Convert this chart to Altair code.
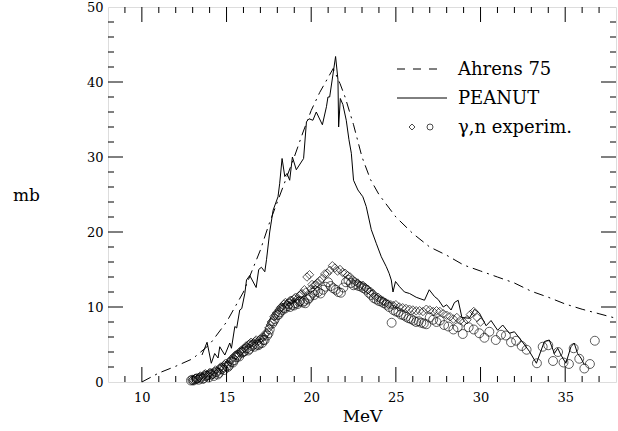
import altair as alt
import pandas as pd

# ---------------- data ----------------
ahrens_x = [10, 11, 12, 13, 14, 15, 16, 17, 17.5, 18, 18.5, 19, 19.5, 20, 20.5, 21, 21.3,
            21.7, 22, 22.5, 23, 23.5, 24, 25, 26, 27, 28, 29, 30, 31, 32, 33, 34, 35, 36, 37, 38]
ahrens_y = [0, 1.2, 2.1, 3.1, 5.0, 8.0, 12.0, 17.6, 21.0, 24.0, 27.0, 30.0, 33.2, 36.2, 38.6, 40.6, 41.8,
            39.8, 38.0, 34.3, 30.0, 27.0, 25.0, 22.0, 19.8, 18.0, 16.9, 15.6, 14.8, 14.0, 13.2, 12.1,
            11.3, 10.4, 9.7, 9.1, 8.5]

peanut_x = [13.55, 13.85, 14.1, 14.3, 14.5, 14.6, 14.9, 15.19, 15.29, 15.49, 15.6, 15.78, 15.9, 16.08,
            16.18, 16.37, 16.75, 16.9, 17.06, 17.26, 17.36, 17.55, 17.75, 18.04, 18.14, 18.28, 18.44,
            18.57, 18.73, 18.89, 19.12, 19.55, 19.72, 19.87, 20.1, 20.3, 20.66, 20.9, 20.99, 21.09,
            21.44, 21.58, 21.62, 21.72, 21.87, 22.07, 22.23, 22.37, 22.5, 22.76, 23.05, 23.25, 23.55,
            23.84, 24.14, 24.43, 24.6, 24.73, 24.83, 24.98, 25.22, 25.51, 25.81, 26.2, 26.69, 26.97,
            27.28, 27.5, 27.8, 28.0, 28.26, 28.46, 28.68, 28.9, 29.34, 29.64, 29.93, 30.33, 30.62,
            31.01, 31.31, 31.7, 32.0, 32.39, 32.88, 33.3, 33.77, 34.06, 34.36, 34.56, 34.75, 35.04,
            35.34, 35.53, 35.73, 35.93, 36.13]
peanut_y = [3.6, 5.3, 2.5, 3.8, 3.2, 4.7, 3.6, 5.2, 4.5, 7.4, 7.2, 9.6, 9.8, 11.8,
            13.6, 14.2, 12.6, 15.0, 15.3, 14.7, 16.3, 20.0, 22.9, 24.7, 26.5, 29.8, 27.4,
            27.8, 26.9, 30.0, 28.3, 29.8, 34.7, 35.1, 34.9, 36.0, 34.3, 36.7, 38.0, 38.0,
            43.4, 40.3, 34.0, 37.8, 37.0, 34.9, 32.3, 30.5, 26.9, 25.6, 24.7, 23.4, 20.3,
            18.5, 16.7, 15.4, 14.5, 13.6, 12.0, 13.4, 12.7, 12.0, 11.8, 11.3, 10.9, 12.3,
            11.4, 11.0, 10.0, 10.3, 9.6, 10.6, 10.9, 8.6, 8.5, 9.7, 9.2, 7.5, 8.2,
            6.9, 7.6, 6.5, 6.7, 5.6, 4.1, 2.5, 5.4, 5.6, 3.8, 4.5, 3.6, 2.5,
            4.7, 5.2, 3.8, 3.2, 2.3]

diam_x = [13.0, 13.15, 13.3, 13.45, 13.6, 13.75, 13.9, 14.05, 14.2, 14.35, 14.5, 14.65, 14.8, 14.95,
          15.1, 15.25, 15.4, 15.55, 15.7, 15.85, 16.0, 16.15, 16.3, 16.45, 16.6, 16.75, 16.9, 17.05,
          17.2, 17.35, 17.5, 17.65, 17.8, 17.95, 18.1, 18.25, 18.4, 18.55, 18.7, 18.85, 19.0, 19.15,
          19.3, 19.45, 19.6, 19.75, 19.9, 20.05, 20.2, 20.35, 20.5, 20.65, 20.8, 20.95, 21.1, 21.25,
          21.4, 21.55, 21.7, 21.85, 22.0, 22.15, 22.3, 22.45, 22.6, 22.75, 22.9, 23.05, 23.2, 23.35,
          23.5, 23.65, 23.8, 23.95, 24.1, 24.25, 24.4, 24.55, 24.7, 24.85, 25.0, 25.2, 25.4, 25.6,
          25.8, 26.0, 26.2, 26.4, 26.6, 26.8, 27.0, 27.2, 27.4, 27.6, 27.8, 28.0, 28.2, 28.4, 28.6,
          28.8, 29.0, 29.2, 29.4, 29.6, 29.8, 30.0,
          13.08, 13.38, 13.68, 13.98, 14.28, 14.58, 14.88, 15.18, 15.48, 15.78, 16.08, 16.38, 16.68,
          16.98, 17.28, 17.58, 17.88, 18.18, 18.48, 18.78, 19.08, 19.38, 19.68, 19.98, 20.28]
diam_y = [0.3, 0.5, 0.4, 0.8, 0.7, 1.1, 0.9, 1.3, 1.0, 1.6, 1.4, 2.0, 1.9, 2.5,
          2.4, 3.0, 3.2, 3.6, 3.7, 4.2, 4.4, 4.8, 5.0, 5.3, 5.2, 5.6, 5.5, 5.9,
          6.0, 6.6, 7.2, 8.0, 8.7, 9.2, 9.6, 10.0, 10.4, 10.3, 10.7, 10.9, 11.1, 11.0,
          11.5, 11.8, 12.3, 14.0, 14.3, 13.0, 12.9, 13.2, 13.5, 13.8, 14.4, 14.5, 14.9, 15.5,
          15.2, 14.8, 15.0, 14.6, 14.5, 14.2, 14.0, 13.6, 13.4, 13.2, 12.9, 12.9, 12.6, 12.3,
          12.1, 11.8, 11.4, 11.3, 11.0, 10.8, 10.6, 10.4, 10.3, 10.2, 10.3, 10.0, 9.9, 9.8,
          9.7, 9.6, 9.5, 9.5, 9.4, 9.7, 9.6, 9.4, 9.5, 9.4, 9.1, 8.9, 8.7, 8.4, 8.6,
          8.2, 8.0, 8.3, 9.0, 9.4, 8.6, 8.0,
          0.2, 0.6, 1.0, 1.2, 1.4, 1.8, 2.3, 2.7, 3.5, 4.0, 4.5, 5.1, 5.4,
          5.7, 6.3, 7.6, 8.9, 9.9, 10.6, 10.9, 11.3, 11.7, 12.0, 12.4, 13.0]

circ_x = [12.9, 13.05, 13.2, 13.35, 13.5, 13.65, 13.8, 13.95, 14.1, 14.25, 14.4, 14.55, 14.7, 14.85,
          15.0, 15.15, 15.3, 15.45, 15.6, 15.75, 15.9, 16.05, 16.2, 16.35, 16.5, 16.65, 16.8, 16.95,
          17.1, 17.25, 17.4, 17.55, 17.7, 17.85, 18.0, 18.15, 18.3, 18.45, 18.6, 18.75, 18.9, 19.05,
          19.2, 19.35, 19.5, 19.65, 19.8, 19.95, 20.1, 20.25, 20.4, 20.55, 20.7, 20.85, 21.0, 21.15,
          21.3, 21.45, 21.6, 21.75, 21.9, 22.05, 22.2, 22.35, 22.5, 22.65, 22.8, 22.95, 23.1, 23.25,
          23.4, 23.55, 23.7, 23.85, 24.0, 24.15, 24.3, 24.45, 24.6, 24.75, 24.85, 25.0, 25.15, 25.3,
          25.45, 25.6, 25.75, 25.9, 26.05, 26.2, 26.35, 26.5, 26.65, 26.8, 27.0, 27.2, 27.4, 27.6,
          27.85, 28.1, 28.4, 28.65, 28.95, 29.3, 29.6, 29.93, 30.23, 30.52, 30.9, 31.21, 31.5, 31.8,
          32.1, 32.43, 32.72, 33.33, 33.67, 34.0, 34.28, 34.58, 34.9, 35.22, 35.5, 35.83, 36.13,
          36.46, 36.75,
          12.98, 13.28, 13.58, 13.88, 14.18, 14.48, 14.78, 15.08, 15.38, 15.68, 15.98, 16.28, 16.58,
          16.88, 17.18, 17.48, 17.78, 18.08, 18.38, 18.68, 18.98, 19.28, 19.58, 19.88, 20.18]
circ_y = [0.2, 0.2, 0.4, 0.3, 0.6, 0.5, 0.8, 0.6, 1.0, 0.8, 1.3, 1.2, 1.7, 1.6,
          2.1, 2.2, 2.7, 2.9, 3.3, 3.4, 3.9, 4.1, 4.5, 4.4, 4.8, 4.7, 5.0, 5.1,
          5.2, 5.6, 6.2, 7.0, 7.8, 8.4, 8.9, 9.3, 9.6, 9.8, 10.1, 10.0, 10.3, 10.5,
          10.4, 10.8, 10.6, 10.5, 11.0, 11.5, 11.9, 12.2, 12.0, 11.8, 12.3, 12.7, 13.3, 12.8,
          12.5, 12.3, 12.0, 11.9, 12.6, 13.3, 13.6, 13.2, 12.9, 13.0, 12.8, 12.7, 12.5, 12.3,
          11.9, 11.6, 11.2, 11.0, 10.8, 10.7, 10.5, 10.3, 10.0, 7.9, 9.6, 9.4, 9.3, 9.0,
          8.9, 8.7, 8.5, 8.4, 8.2, 8.0, 8.1, 7.9, 7.8, 7.7, 8.6, 8.3, 8.0, 8.2,
          7.6, 7.4, 7.0, 7.3, 6.4, 7.3, 7.0, 6.5, 5.9, 6.7, 5.6, 6.3, 6.2, 5.3,
          5.5, 4.8, 4.3, 2.5, 4.7, 4.9, 2.8, 4.0, 2.6, 2.4, 4.5, 3.1, 1.8,
          2.4, 5.5,
          0.3, 0.5, 0.4, 0.9, 1.1, 1.0, 1.9, 2.0, 2.6, 3.6, 4.0, 4.2, 5.0,
          4.9, 5.6, 6.5, 8.1, 9.0, 9.9, 10.4, 10.2, 10.7, 10.8, 11.2, 11.6]

x_major = [10, 15, 20, 25, 30, 35]
x_minor = [9, 11, 12, 13, 14, 16, 17, 18, 19, 21, 22, 23, 24, 26, 27, 28, 29, 31, 32, 33, 34, 36, 37]
y_major = [10, 20, 30, 40]
y_minor = [2, 4, 6, 8, 12, 14, 16, 18, 22, 24, 26, 28, 32, 34, 36, 38, 42, 44, 46, 48]
x_labels = [10, 15, 20, 25, 30, 35]
y_labels = [0, 10, 20, 30, 40, 50]

legend_labels = ["Ahrens 75", "PEANUT", "γ,n experim."]

# ---------------- chart ----------------
W, H = 508, 375
FONT = "DejaVu Serif"
MAJ, MIN = 15, 6

xs = alt.Scale(domain=[8, 38], nice=False, zero=False)
ys = alt.Scale(domain=[0, 50], nice=False, zero=False)

xax = alt.Axis(values=x_labels, title="MeV", ticks=False, domain=False, grid=False,
               labelFont=FONT, labelFontSize=13, labelColor="black", labelPadding=9,
               labelFlush=False, titleFont=FONT, titleFontSize=17, titleFontWeight="normal",
               titleColor="black", titlePadding=4)
yax = alt.Axis(values=y_labels, title="mb", ticks=False, domain=False, grid=False,
               labelFont=FONT, labelFontSize=13, labelColor="black", labelPadding=5,
               labelFlush=False, titleFont=FONT, titleFontSize=17, titleFontWeight="normal",
               titleColor="black", titleAngle=0, titleX=-82, titleY=188,
               titleAlign="center", titleBaseline="middle")

X = lambda f: alt.X(f, type="quantitative", scale=xs, axis=xax)
Y = lambda f: alt.Y(f, type="quantitative", scale=ys, axis=yax)

ahrens = pd.DataFrame({"x": ahrens_x, "y": ahrens_y})
peanut = pd.DataFrame({"x": peanut_x, "y": peanut_y})
diam = pd.DataFrame({"x": diam_x, "y": diam_y})
circ = pd.DataFrame({"x": circ_x, "y": circ_y})

layers = []
layers.append(alt.Chart(diam).mark_point(shape="diamond", filled=False, size=72, color="black",
                                          strokeWidth=0.9).encode(x=X("x"), y=Y("y")))
layers.append(alt.Chart(circ).mark_point(shape="circle", filled=False, size=80, color="black",
                                          strokeWidth=0.9).encode(x=X("x"), y=Y("y")))
layers.append(alt.Chart(ahrens).mark_line(color="black", strokeWidth=1,
                                           strokeDash=[10, 5, 2, 5]).encode(x=X("x"), y=Y("y")))
layers.append(alt.Chart(peanut).mark_line(color="black", strokeWidth=1).encode(x=X("x"), y=Y("y")))

# inward ticks on all four sides
def xt(vals, ln):
    d = pd.DataFrame({"t": vals})
    b = alt.Chart(d).mark_rule(color="black", strokeWidth=1).encode(
        x=X("t"), y=alt.value(H), y2=alt.value(H - ln))
    t = alt.Chart(d).mark_rule(color="black", strokeWidth=1).encode(
        x=X("t"), y=alt.value(0), y2=alt.value(ln))
    return [b, t]

def yt(vals, ln):
    d = pd.DataFrame({"t": vals})
    l = alt.Chart(d).mark_rule(color="black", strokeWidth=1).encode(
        y=Y("t"), x=alt.value(0), x2=alt.value(ln))
    r = alt.Chart(d).mark_rule(color="black", strokeWidth=1).encode(
        y=Y("t"), x=alt.value(W), x2=alt.value(W - ln))
    return [l, r]

layers += xt(x_major, MAJ) + xt(x_minor, MIN) + yt(y_major, MAJ) + yt(y_minor, MIN)

# legend drawn inside the plot
one = pd.DataFrame({"a": [0]})
LX0 = 397 - 108
layers.append(alt.Chart(one).mark_rule(color="black", strokeWidth=1, strokeDash=[8, 8]).encode(
    x=alt.value(LX0), x2=alt.value(LX0 + 46), y=alt.value(69 - 7)))
layers.append(alt.Chart(one).mark_rule(color="black", strokeWidth=1).encode(
    x=alt.value(LX0), x2=alt.value(LX0 + 50), y=alt.value(98 - 7)))
layers.append(alt.Chart(one).mark_point(shape="diamond", filled=False, size=36, color="black",
                                         strokeWidth=1).encode(
    x=alt.value(412 - 108), y=alt.value(127 - 7)))
layers.append(alt.Chart(one).mark_point(shape="circle", filled=False, size=36, color="black",
                                         strokeWidth=1).encode(
    x=alt.value(430 - 108), y=alt.value(127 - 7)))
for lab, by in zip(legend_labels, [75, 104, 133]):
    layers.append(alt.Chart(one).mark_text(font=FONT, fontSize=18, color="black", align="left",
                                            baseline="alphabetic").encode(
        x=alt.value(458 - 108), y=alt.value(by - 7), text=alt.value(lab)))

chart = alt.layer(*layers).properties(
    width=W, height=H,
    autosize=alt.AutoSizeParams(type="none"),
    padding={"left": 108, "top": 7, "right": 2, "bottom": 49},
).configure_view(stroke="black", strokeWidth=1.2).configure(background="white")

chart.save("out.html", embed_options={"renderer": "svg", "actions": False})
